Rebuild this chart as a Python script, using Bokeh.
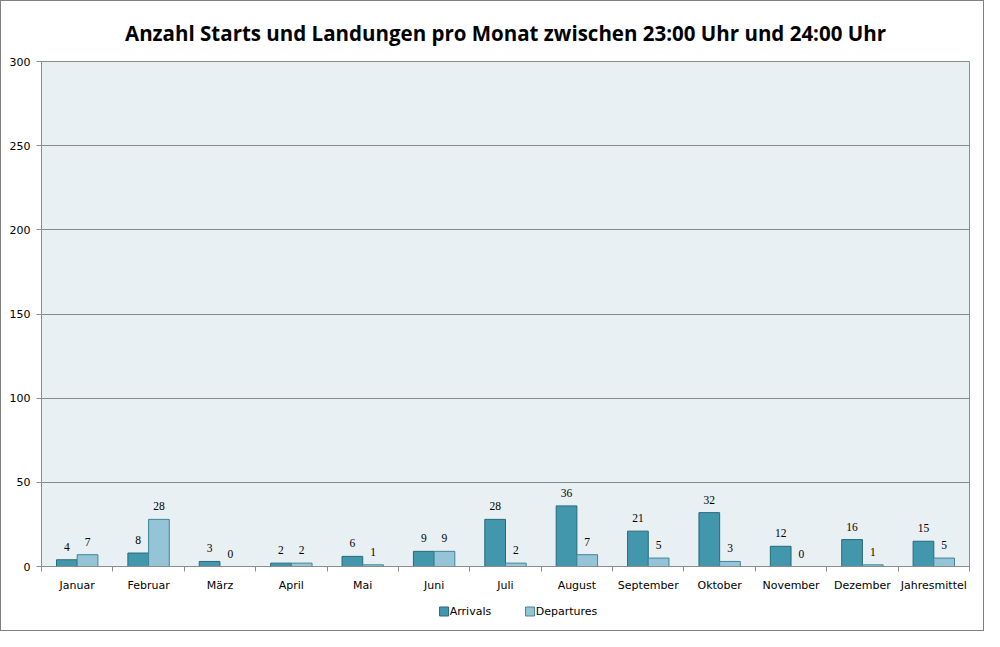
from bokeh.plotting import figure
from bokeh.layouts import column
from bokeh.models import ColumnDataSource, FixedTicker, Range1d, LabelSet
from bokeh.core.properties import value
from bokeh.embed import file_html
from bokeh.resources import INLINE

months = ["Januar", "Februar", "März", "April", "Mai", "Juni", "Juli", "August",
          "September", "Oktober", "November", "Dezember", "Jahresmittel"]
arrivals = [4, 8, 3, 2, 6, 9, 28, 36, 21, 32, 12, 16, 15]
departures = [7, 28, 0, 2, 1, 9, 2, 7, 5, 3, 0, 1, 5]
y_ticks = [0, 50, 100, 150, 200, 250, 300]
series_names = ["Arrivals", "Departures"]
title = "Anzahl Starts und Landungen pro Monat zwischen 23:00 Uhr und 24:00 Uhr"

fill_a, line_a = "#4397AD", "#26697B"
fill_d, line_d = "#94C4D6", "#3E8599"

centers = [i + 0.5 for i in range(len(months))]
bw = 0.29
src_a = ColumnDataSource(dict(x=[c - bw / 2 for c in centers], top=arrivals,
                              lbl=[str(v) for v in arrivals]))
src_d = ColumnDataSource(dict(x=[c + bw / 2 for c in centers], top=departures,
                              lbl=[str(v) for v in departures]))

W = 982
p = figure(width=W, height=598, output_backend="svg", toolbar_location=None,
           x_range=Range1d(0, len(months)), y_range=Range1d(0, 300),
           min_border_left=40, min_border_right=14, min_border_top=56, min_border_bottom=33)
p.title.text = title
p.title.align = "center"
p.title.text_font = "Open Sans"
p.title.text_font_size = "20.5px"
p.title.text_font_style = "bold"
p.title.text_color = "#000000"
p.title.offset = 0
p.title.standoff = 30

p.background_fill_color = "#E8F0F4"
p.border_fill_color = "#FFFFFF"
p.outline_line_color = "#8C8C8C"
p.outline_line_width = 1

p.xgrid.visible = False
p.ygrid.grid_line_color = "#8A8A8A"
p.ygrid.grid_line_width = 1
p.yaxis.ticker = FixedTicker(ticks=y_ticks)
p.xaxis.ticker = FixedTicker(ticks=centers, minor_ticks=list(range(len(months) + 1)))
p.xaxis.major_label_overrides = {c: m for c, m in zip(centers, months)}

for ax in (p.xaxis[0], p.yaxis[0]):
    ax.axis_line_color = "#8C8C8C"
    ax.major_label_text_font = "DejaVu Sans"
    ax.major_label_text_font_size = "11px"
    ax.major_label_text_color = "#000000"
p.xaxis.major_tick_out = 0
p.xaxis.major_tick_in = 0
p.xaxis.minor_tick_out = 5
p.xaxis.minor_tick_in = 0
p.xaxis.minor_tick_line_color = "#8C8C8C"
p.xaxis.major_label_standoff = 7
p.yaxis.major_tick_out = 5
p.yaxis.major_tick_in = 0
p.yaxis.major_tick_line_color = "#8C8C8C"
p.yaxis.minor_tick_line_color = None
p.yaxis.major_label_standoff = 6

p.vbar(x="x", top="top", width=bw, source=src_a, fill_color=fill_a, line_color=line_a, line_width=1)
p.vbar(x="x", top="top", width=bw, source=src_d, fill_color=fill_d, line_color=line_d, line_width=1)

for src in (src_a, src_d):
    p.add_layout(LabelSet(x="x", y="top", text="lbl", source=src, text_align="center",
                          text_baseline="bottom", y_offset=9, text_font="DejaVu Sans",
                          text_font_size="11.5px", text_color="#000000"))

# legend strip (pixel-space layout positions)
LH = 31
q = figure(width=W, height=LH, output_backend="svg", toolbar_location=None,
           x_range=Range1d(0, W), y_range=Range1d(0, LH),
           min_border=0, min_border_left=0, min_border_right=0, min_border_top=0, min_border_bottom=0)
q.axis.visible = False
q.grid.visible = False
q.outline_line_color = None
q.background_fill_color = "#FFFFFF"
q.border_fill_color = "#FFFFFF"
leg_x = [426, 517]
leg_y = LH - 12
leg = ColumnDataSource(dict(x=leg_x, y=[leg_y, leg_y], tx=[x + 6 for x in leg_x],
                            label=series_names, fill=[fill_a, fill_d], line=[line_a, line_d]))
q.rect(x="x", y="y", width=9, height=9, width_units="screen", height_units="screen",
       source=leg, fill_color="fill", line_color="line", line_width=1)
q.text(x="tx", y="y", text="label", source=leg, text_align="left", text_baseline="middle",
       text_font=value("DejaVu Sans"), text_font_size="11px", text_color="#000000")

layout = column(p, q, spacing=0, styles={"border": "1px solid #808080"})

open("out.html", "w").write(file_html(layout, INLINE))
